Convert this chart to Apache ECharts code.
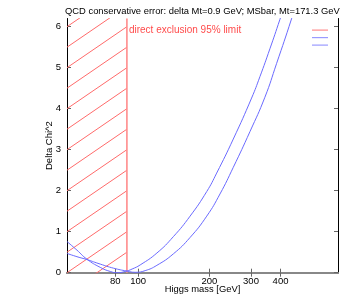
<!DOCTYPE html>
<html><head><meta charset="utf-8">
<script src="https://cdn.jsdelivr.net/npm/echarts@6/dist/echarts.min.js"></script>
<style>html,body{margin:0;padding:0;background:#fff}#c{width:354px;height:300px}</style>
</head><body><div id="c"></div>
<script>
const titleText = 'QCD conservative error: delta Mt=0.9 GeV; MSbar, Mt=171.3 GeV';
const xTicks = [80, 100, 200, 300, 400];
const yTicks = [0, 1, 2, 3, 4, 5, 6];
const exclusionMass = 89.6;
const exclusionLabel = 'direct exclusion 95% limit';
// Delta chi^2 curves: [Higgs mass, delta chi2]
const curveA = [[50,0.76],[55.1,0.55],[60.7,0.33],[69.1,0.13],[76.2,0.03],[81.5,0.0],[88.1,0.03],[94.3,0.09],[102,0.19],[120,0.48],[140.9,0.88],[165.8,1.38],[195,1.98],[214.8,2.43],[252.5,3.26],[301.8,4.26],[327.2,4.78],[360.6,5.46],[397.2,6.17],[417,6.55]];
const curveB = [[50,0.47],[55.1,0.39],[60.7,0.32],[69.1,0.21],[78.7,0.11],[89.6,0.04],[97.1,0.01],[107,0.05],[120,0.18],[140.9,0.46],[165.8,0.86],[195,1.38],[221.8,1.92],[252.5,2.57],[296.9,3.44],[343.5,4.28],[384.8,5.1],[445.1,6.19],[464,6.55]];
// hatch lines: offsets at the left edge (delta chi2 units), each rising 1 unit across the excluded band
const hatchOffsets = [-0.5,0,0.5,1,1.5,2,2.5,3,3.5,4,4.5,5,5.5,6];
const labelY = 5.92;
const xMin = 50, xMax = 700, yMin = 0, yMax = 6.2;

const font = 'Liberation Sans, Arial, Helvetica, sans-serif';
const hatchSeries = hatchOffsets.map(c => ({
  type: 'line', silent: true, symbol: 'none', clip: true, legendHoverLink: false,
  data: [[xMin, c], [exclusionMass, c + 1]],
  lineStyle: {color: '#ff6a6a', width: 1}, z: 1
}));

const chart = echarts.init(document.getElementById('c'), null, {renderer: 'canvas'});
chart.setOption({
  animation: false,
  title: {text: titleText, left: 65, top: 7, padding: 0,
    textStyle: {fontFamily: font, fontSize: 9.4, fontWeight: 'normal', color: '#000'}},
  grid: {left: 67, right: 16, top: 18.5, bottom: 27.3, outerBoundsMode: 'none', containLabel: false},
  legend: {data: ['excl', 'chi2 A', 'chi2 B'], orient: 'vertical', right: 26, top: 29.5,
    icon: 'rect', itemWidth: 16, itemHeight: 1.2, itemGap: 6.3, formatter: () => '',
    selectedMode: false, padding: 0},
  xAxis: [{
    type: 'log', logBase: 10, min: xMin, max: xMax,
    name: 'Higgs mass [GeV]', nameLocation: 'middle', nameGap: 12, nameMoveOverlap: false,
    nameTextStyle: {fontFamily: font, fontSize: 9.4, color: '#000'},
    axisLine: {lineStyle: {color: '#888', width: 2}},
    axisTick: {inside: true, length: 4, customValues: xTicks, lineStyle: {color: '#666'}},
    axisLabel: {customValues: xTicks, margin: 4, fontFamily: font, fontSize: 9.5, color: '#000'},
    splitLine: {show: false}, minorTick: {show: false}
  }, {
    type: 'log', logBase: 10, min: xMin, max: xMax, position: 'top',
    axisLine: {lineStyle: {color: '#888', width: 2}},
    axisTick: {inside: true, length: 4, customValues: xTicks, lineStyle: {color: '#666'}},
    axisLabel: {show: false}, splitLine: {show: false}
  }],
  yAxis: [{
    type: 'value', min: yMin, max: yMax,
    name: 'Delta Chi^2', nameLocation: 'middle', nameGap: 13, nameRotate: 90, nameMoveOverlap: false,
    nameTextStyle: {fontFamily: font, fontSize: 9.5, color: '#000'},
    axisLine: {lineStyle: {color: '#000', width: 1}},
    axisTick: {inside: true, length: 4, customValues: yTicks, lineStyle: {color: '#666'}},
    axisLabel: {customValues: yTicks, margin: 6, fontFamily: font, fontSize: 9.5, color: '#000'},
    splitLine: {show: false}
  }, {
    type: 'value', min: yMin, max: yMax, position: 'right',
    axisLine: {show: true, lineStyle: {color: '#000', width: 1}},
    axisTick: {inside: true, length: 4, customValues: yTicks, lineStyle: {color: '#666'}},
    axisLabel: {show: false}, splitLine: {show: false}
  }],
  series: [
    ...hatchSeries,
    {name: 'excl', type: 'line', symbol: 'none', z: 2,
     data: [[exclusionMass, yMin], [exclusionMass, yMax]],
     lineStyle: {color: '#ff8c8c', width: 1.6}, itemStyle: {color: '#ff8c8c'}},
    {type: 'scatter', symbolSize: 0, silent: true, z: 4,
     data: [[exclusionMass, labelY]],
     label: {show: true, position: 'right', distance: 2, formatter: exclusionLabel,
       color: '#ff1a1a', fontFamily: font, fontSize: 10}},
    {name: 'chi2 A', type: 'line', symbol: 'none', smooth: true, clip: true, z: 3,
     data: curveA, lineStyle: {color: '#6a6aff', width: 1}, itemStyle: {color: '#9a9aff'}},
    {name: 'chi2 B', type: 'line', symbol: 'none', smooth: true, clip: true, z: 3,
     data: curveB, lineStyle: {color: '#6a6aff', width: 1}, itemStyle: {color: '#9a9aff'}}
  ]
});
</script></body></html>
